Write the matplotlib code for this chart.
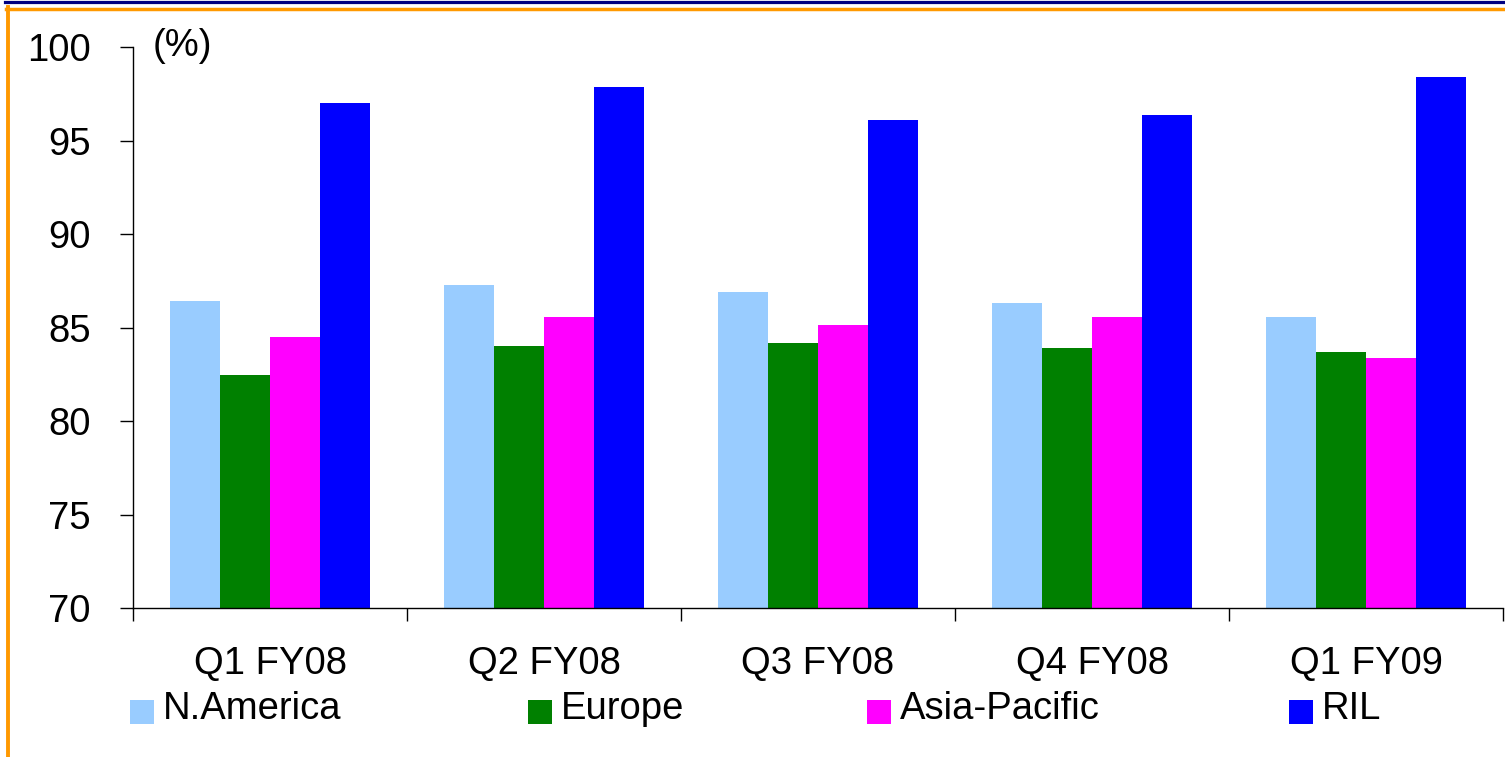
import matplotlib
matplotlib.use("Agg")
import matplotlib.pyplot as plt
import numpy as np
from matplotlib.lines import Line2D
from matplotlib.patches import Rectangle

quarters = ["Q1 FY08", "Q2 FY08", "Q3 FY08", "Q4 FY08", "Q1 FY09"]
series_names = ["N.America", "Europe", "Asia-Pacific", "RIL"]
n_america = [86.45, 87.3, 86.9, 86.3, 85.6]
europe = [82.5, 84.0, 84.2, 83.9, 83.7]
asia_pacific = [84.5, 85.6, 85.15, 85.6, 83.4]
ril = [97.0, 97.9, 96.1, 96.4, 98.4]
y_ticks = [70, 75, 80, 85, 90, 95, 100]

colors = ["#99CCFF", "#008000", "#FF00FF", "#0000FF"]
FONT = "Liberation Sans"
FS = 27.5

W, H = 1505, 757
fig = plt.figure(figsize=(W / 100, H / 100), dpi=100)
ax = fig.add_axes([133 / W, 1 - 608.3 / H, (1503 - 133) / W, (608.3 - 47.3) / H])

x = np.arange(len(quarters)) + 0.5
bw = 0.182
for i, (vals, c) in enumerate(zip([n_america, europe, asia_pacific, ril], colors)):
    ax.bar(x + (i - 1.5) * bw, np.array(vals) - 70, bottom=70, width=bw,
           color=c, edgecolor="none")

ax.set_xlim(0, len(quarters))
ax.set_ylim(70, 100)
ax.set_yticks(y_ticks)
ax.set_yticklabels([str(t) for t in y_ticks], fontsize=FS, family=FONT)
ax.set_xticks(x)
ax.set_xticklabels(quarters, fontsize=FS, family=FONT)
ax.set_xticks(np.arange(len(quarters) + 1), minor=True)
ax.tick_params(axis="x", which="major", length=0, pad=27.5)
ax.tick_params(axis="x", which="minor", length=9.4, width=1, direction="out")
ax.tick_params(axis="y", length=9.4, width=1, direction="out", pad=21)
for s in ["top", "right"]:
    ax.spines[s].set_visible(False)
ax.spines["left"].set_linewidth(1)
ax.spines["bottom"].set_linewidth(1)

fig.text(153 / W, 1 - 46 / H, "(%)", fontsize=FS, family=FONT, va="center", ha="left")

# legend laid out by hand, the gaps in the original are uneven
leg_x = [130, 528, 867, 1289]
for name, c, lx in zip(series_names, colors, leg_x):
    fig.add_artist(Rectangle((lx / W, 1 - 724 / H), 24 / W, 24 / H,
                             transform=fig.transFigure, color=c, lw=0))
    fig.text((lx + 33) / W, 1 - 709 / H, name, fontsize=FS, family=FONT,
             va="center", ha="left")

# slide frame lines
fig.add_artist(Line2D([5 / W, 1], [1 - 1.5 / H, 1 - 1.5 / H], color="#000080", lw=2.3,
                      transform=fig.transFigure))
fig.add_artist(Line2D([6 / W, 1], [1 - 8.5 / H, 1 - 8.5 / H], color="#FF9900", lw=2.5,
                      transform=fig.transFigure))
fig.add_artist(Line2D([8 / W, 8 / W], [0, 1 - 7 / H], color="#FF9900", lw=2.8,
                      transform=fig.transFigure))

fig.savefig("out.png", dpi=100)
